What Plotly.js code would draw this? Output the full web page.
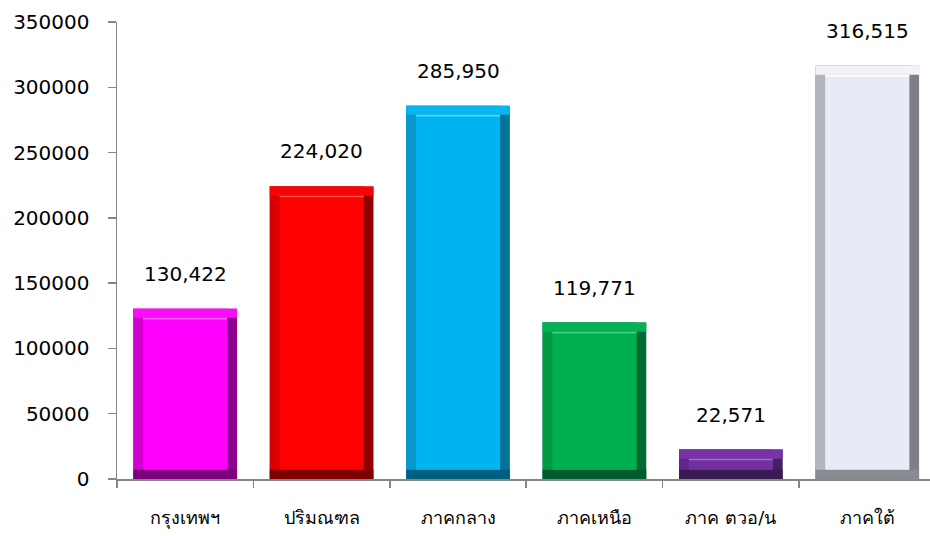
<!DOCTYPE html>
<html>
<head>
<meta charset="utf-8">
<script src="https://cdn.plot.ly/plotly-3.0.1.min.js"></script>
<style>html,body{margin:0;padding:0;background:#fff;}#chart{width:930px;height:536px;}</style>
</head>
<body>
<div id="chart"></div>
<script>
// Data
var categories = ["กรุงเทพฯ", "ปริมณฑล", "ภาคกลาง", "ภาคเหนือ", "ภาค ตวอ/น", "ภาคใต้"];
var values = [130422, 224020, 285950, 119771, 22571, 316515];
var yTickValues = [0, 50000, 100000, 150000, 200000, 250000, 300000, 350000];

// Bevel colours per bar
var faceColors   = ["#FF00FF", "#FF0000", "#00B4F0", "#00B050", "#7030A0", "#E8EBF5"];
var topColors    = ["#FB0CFB", "#F80404", "#06B6F0", "#04B254", "#7634A6", "#F2F3F8"];
var highColors   = ["#FF55FF", "#FF5050", "#5AD6FF", "#40D080", "#A070D8", "#FFFFFF"];
var leftColors   = ["#D000D0", "#D80000", "#0A98CC", "#009A42", "#60288C", "#B4B6BE"];
var rightColors  = ["#8E008E", "#900000", "#00739A", "#006A35", "#43205F", "#7E7F84"];
var bottomColors = ["#7C007C", "#7E0000", "#005E80", "#005C2C", "#3A1C55", "#8A8B90"];

var W = 0.76;      // bar width (category units)
var d = 0.072;     // side bevel (category units)
var b = 7000;      // top/bottom bevel (value units)
var h = 1300;      // highlight line thickness (value units)

var common = {type: "bar", x: categories, hoverinfo: "skip"};
function tr(o){ var t = {}; for (var k in common) t[k] = common[k]; for (var k2 in o) t[k2] = o[k2]; return t; }
function mk(c){ return {color: c, line: {width: 0}}; }

var traces = [
  tr({y: values, width: W, offset: -W/2, marker: mk(rightColors)}),
  tr({y: values, width: W - d, offset: -W/2, marker: mk(leftColors)}),
  tr({y: values.map(function(){ return b; }), base: values.map(function(v){ return v - b; }), width: W, offset: -W/2, marker: mk(topColors)}),
  tr({y: values.map(function(){ return b; }), base: values.map(function(){ return 0; }), width: W, offset: -W/2, marker: mk(bottomColors)}),
  tr({y: values.map(function(v){ return v - 2*b; }), base: values.map(function(){ return b; }), width: W - 2*d, offset: -W/2 + d, marker: mk(faceColors)}),
  tr({y: values.map(function(){ return h; }), base: values.map(function(v){ return v - b - h; }), width: W - 2*d, offset: -W/2 + d, marker: mk(highColors)})
];

var annotations = values.map(function(v, i){
  return {x: categories[i], y: v, xref: "x", yref: "y", text: v.toLocaleString("en-US"),
          showarrow: false, yanchor: "middle", yshift: 35,
          font: {family: "DejaVu Sans, Noto Sans, sans-serif", size: 20, color: "#000"}};
});

var layout = {
  width: 930, height: 536,
  margin: {l: 117, r: 0, t: 22, b: 57},
  paper_bgcolor: "#fff", plot_bgcolor: "#fff",
  barmode: "overlay",
  showlegend: false,
  hovermode: false,
  font: {family: "DejaVu Sans, Noto Sans, sans-serif", color: "#000"},
  xaxis: {
    type: "category",
    range: [-0.5, 5.46],
    showline: true, linecolor: "#868686", linewidth: 1.5,
    ticks: "outside", tickson: "boundaries", ticklen: 7, tickcolor: "#868686", tickwidth: 1.5,
    ticklabelstandoff: 22,
    tickfont: {size: 18, family: "DejaVu Sans, Noto Sans, sans-serif", color: "#000"},
    showgrid: false, zeroline: false, fixedrange: true
  },
  yaxis: {
    range: [0, 350000],
    tickmode: "array", tickvals: yTickValues, ticktext: yTickValues.map(String),
    showline: true, linecolor: "#868686", linewidth: 1.5,
    ticks: "outside", ticklen: 8, tickcolor: "#868686", tickwidth: 1.5,
    ticklabelstandoff: 14,
    tickfont: {size: 20, family: "DejaVu Sans, Noto Sans, sans-serif", color: "#000"},
    showgrid: false, zeroline: false, fixedrange: true
  },
  annotations: annotations
};

Plotly.newPlot("chart", traces, layout, {displayModeBar: false, staticPlot: true});
</script>
</body>
</html>
